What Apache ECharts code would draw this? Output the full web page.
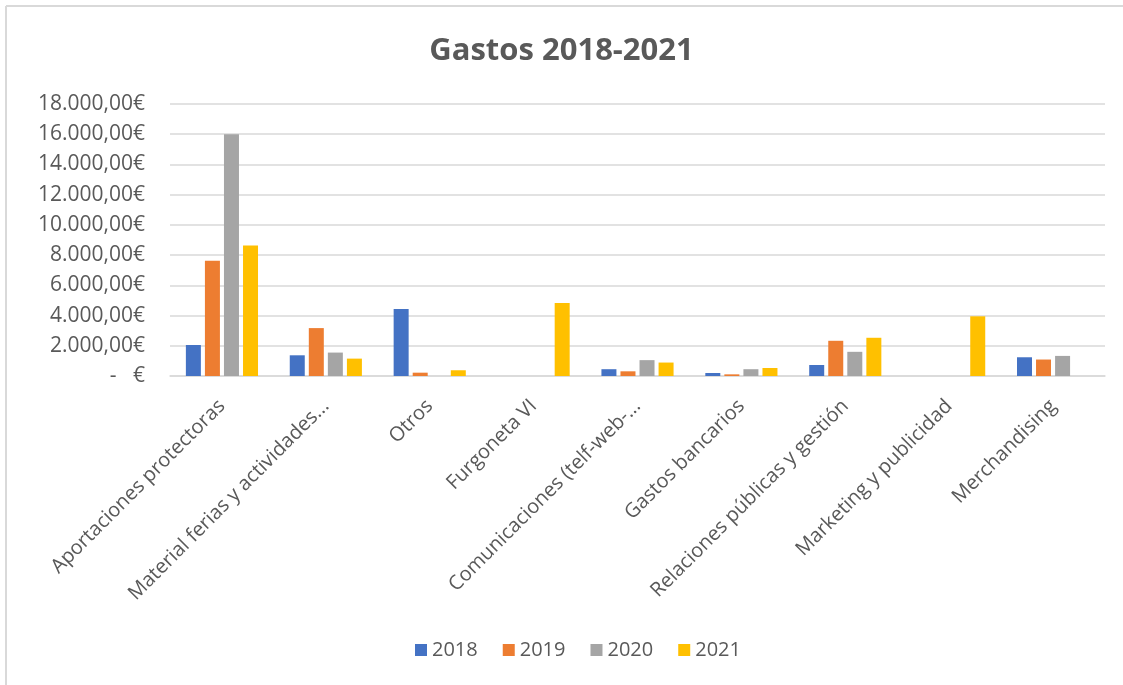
<!DOCTYPE html>
<html>
<head>
<meta charset="utf-8">
<script src="https://cdn.jsdelivr.net/npm/echarts@6/dist/echarts.min.js"></script>
<style>
html,body{margin:0;padding:0;background:#fff;}
#c{width:1123px;height:685px;}
</style>
</head>
<body>
<div id="c"></div>
<script>
var categories = ["Aportaciones protectoras", "Material ferias y actividades...", "Otros", "Furgoneta VI", "Comunicaciones (telf-web-...", "Gastos bancarios", "Relaciones públicas y gestión", "Marketing y publicidad", "Merchandising"];
var years = ["2018", "2019", "2020", "2021"];
var v2018 = [2050, 1370, 4430, 0, 450, 200, 730, 0, 1240];
var v2019 = [7620, 3170, 220, 0, 310, 110, 2330, 0, 1090];
var v2020 = [16000, 1550, 0, 0, 1050, 450, 1600, 0, 1330];
var v2021 = [8630, 1150, 380, 4830, 890, 530, 2530, 3950, 0];
var colors = ["#4472c4", "#ed7d31", "#a5a5a5", "#ffc000"];

function fmt(v) {
  if (v === 0) return "-   €";
  var s = String(Math.round(v));
  s = s.replace(/\B(?=(\d{3})+(?!\d))/g, ".");
  return s + ",00€";
}
var seriesData = [v2018, v2019, v2020, v2021];
var chart = echarts.init(document.getElementById('c'));
var font = "'Open Sans', 'Liberation Sans', sans-serif";
chart.setOption({
  backgroundColor: '#fff',
  animation: false,
  title: {
    text: 'Gastos 2018-2021', left: 'center', top: 31,
    textStyle: { fontFamily: font, fontSize: 31, fontWeight: 'bold', color: '#595959' }
  },
  legend: {
    bottom: 20, left: 410, itemWidth: 12, itemHeight: 12, itemGap: 25,
    icon: 'rect',
    textStyle: { fontFamily: font, fontSize: 20, color: '#595959' },
    data: years
  },
  grid: { left: 170, right: 18, top: 104, bottom: 309 },
  xAxis: {
    type: 'category', data: categories,
    axisLine: { lineStyle: { color: '#d9d9d9', width: 1.5 } },
    axisTick: { show: false },
    axisLabel: { rotate: 45, interval: 0, margin: 27, fontFamily: font, fontSize: 20, color: '#595959' }
  },
  yAxis: {
    type: 'value', min: 0, max: 18000, interval: 2000,
    axisLine: { show: false }, axisTick: { show: false },
    splitLine: { lineStyle: { color: '#d9d9d9', width: 1.5 } },
    axisLabel: { formatter: fmt, margin: 25, fontFamily: font, fontSize: 21, color: '#595959' }
  },
  series: years.map(function (y, i) {
    return {
      name: y, type: 'bar', data: seriesData[i], barWidth: 15, barGap: '27%',
      itemStyle: { color: colors[i] }
    };
  }),
  graphic: [
    { type: 'line', shape: { x1: 6, y1: 6, x2: 1123, y2: 6 }, style: { stroke: '#d9d9d9', lineWidth: 2 } },
    { type: 'line', shape: { x1: 6, y1: 6, x2: 6, y2: 685 }, style: { stroke: '#d9d9d9', lineWidth: 2 } }
  ]
});
</script>
</body>
</html>
